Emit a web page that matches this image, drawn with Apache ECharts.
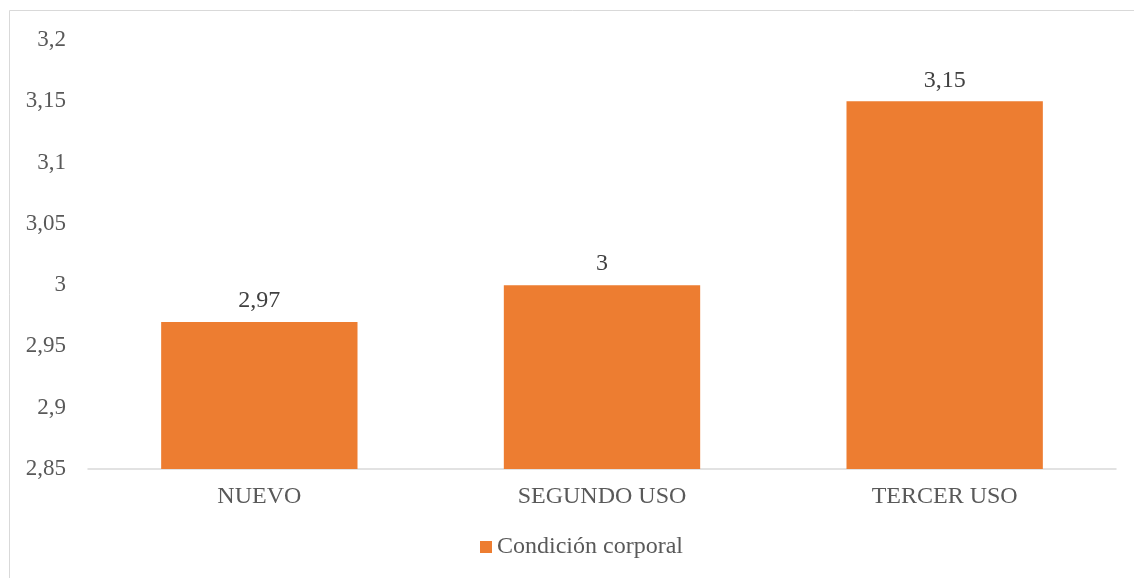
<!DOCTYPE html>
<html>
<head>
<meta charset="utf-8">
<script src="https://cdn.jsdelivr.net/npm/echarts@6/dist/echarts.min.js"></script>
<style>
  html, body { margin: 0; padding: 0; background: #fff; }
  #chart { width: 1134px; height: 578px; }
</style>
</head>
<body>
<div id="chart"></div>
<script>
const categories = ['NUEVO', 'SEGUNDO USO', 'TERCER USO']
const condicionCorporal = [2.97, 3.00, 3.15]
const seriesName = 'Condición corporal'

const fmt = v => String(+v.toFixed(2)).replace('.', ',')
const font = '"Liberation Serif", "Times New Roman", serif'

const chart = echarts.init(document.getElementById('chart'))
chart.setOption({
  animation: false,
  textStyle: { fontFamily: font },
  graphic: [{
    type: 'rect',
    shape: { x: 9.5, y: 10.5, width: 1140, height: 600 },
    style: { fill: 'none', stroke: '#d9d9d9', lineWidth: 1 }
  }],
  legend: {
    data: [seriesName],
    bottom: 14,
    left: 475,
    icon: 'rect',
    itemWidth: 12,
    itemHeight: 12,
    itemGap: 5,
    textStyle: { color: '#595959', fontSize: 24, fontFamily: font }
  },
  grid: { left: 88, right: 18, top: 40, bottom: 109, containLabel: false },
  xAxis: {
    type: 'category',
    data: categories,
    axisLine: { lineStyle: { color: '#d9d9d9', width: 1.5 } },
    axisTick: { show: false },
    axisLabel: { color: '#595959', fontSize: 24, margin: 16, fontFamily: font }
  },
  yAxis: {
    type: 'value',
    min: 2.85,
    max: 3.2,
    interval: 0.05,
    splitLine: { show: false },
    axisLine: { show: false },
    axisTick: { show: false },
    axisLabel: { color: '#595959', fontSize: 23, margin: 22, fontFamily: font, formatter: fmt }
  },
  series: [{
    name: seriesName,
    type: 'bar',
    data: condicionCorporal,
    barWidth: '57.3%',
    itemStyle: { color: '#ed7d31' },
    label: {
      show: true,
      position: 'top',
      distance: 9,
      color: '#404040',
      fontSize: 24,
      fontFamily: font,
      formatter: p => fmt(p.value)
    }
  }]
})
</script>
</body>
</html>
